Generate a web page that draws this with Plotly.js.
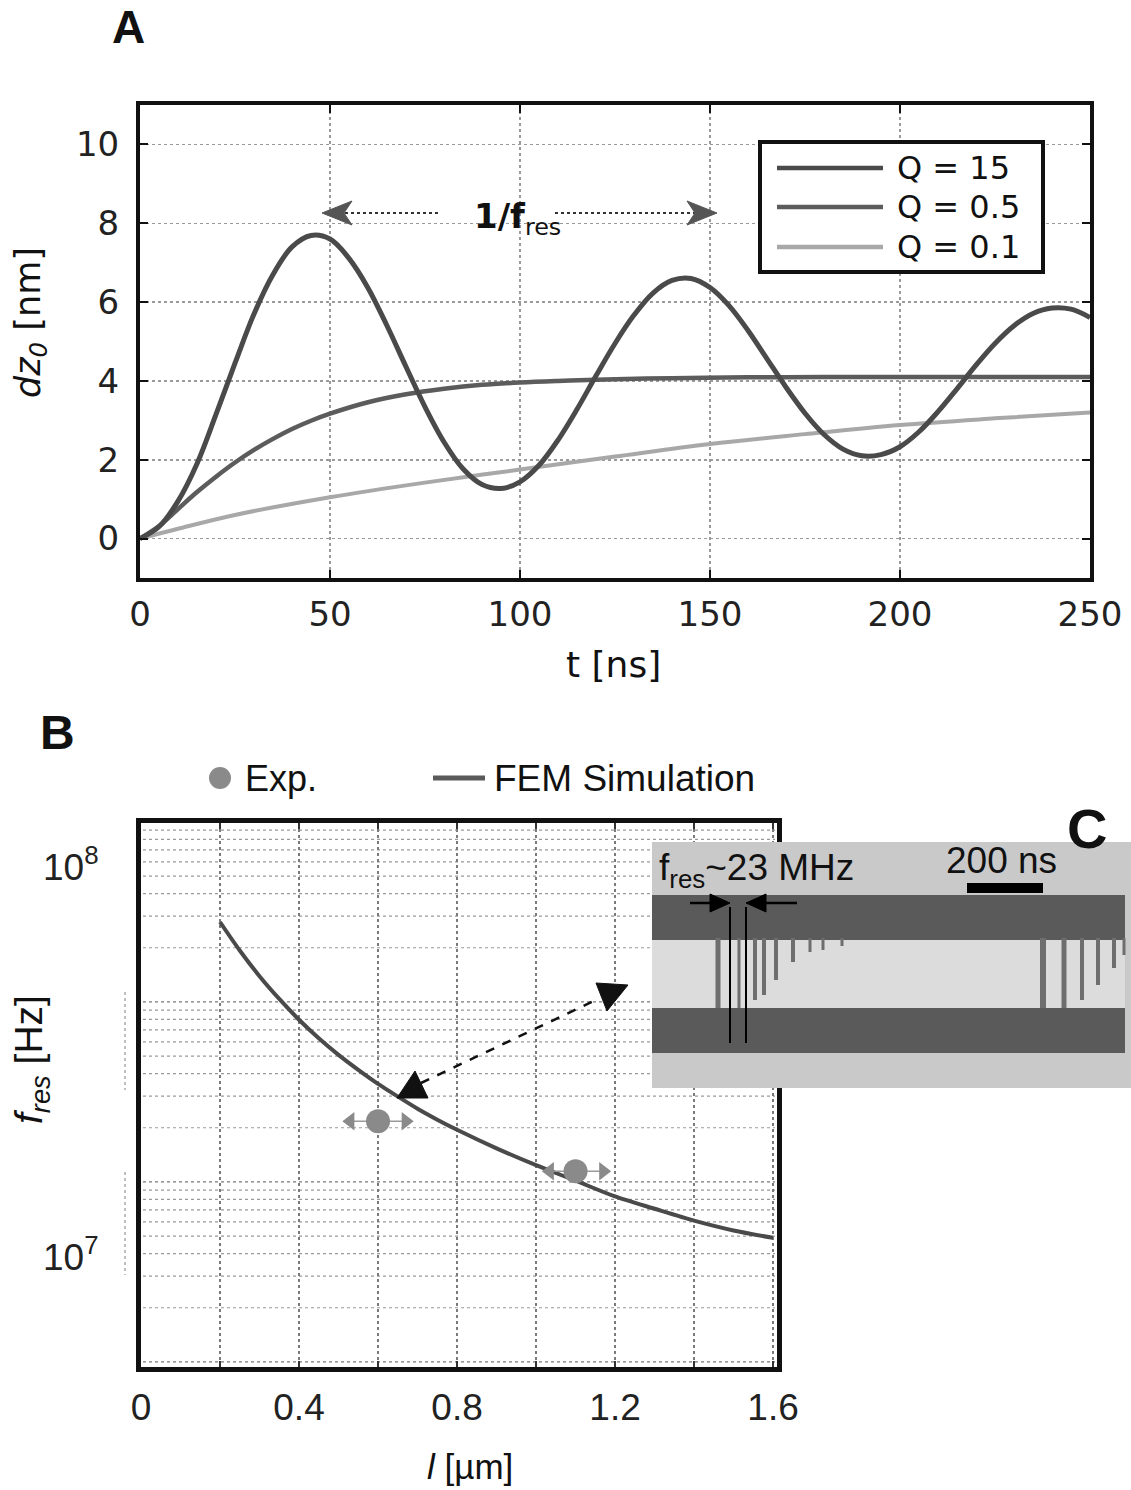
<!DOCTYPE html>
<html><head><meta charset="utf-8">
<script src="https://cdn.plot.ly/plotly-3.0.1.min.js"></script>
<style>html,body{margin:0;padding:0;background:#fff}#chart{width:1131px;height:1490px}</style>
</head><body><div id="chart"></div>
<script>
// ---------- Panel A data (t in ns, dz0 in nm) ----------
const tQ15 = [0,5,10,15,20,25,30,35,40,45,50,55,60,65,70,75,80,85,90,95,100,105,110,115,120,125,130,135,140,145,150,155,160,165,170,175,180,185,190,195,200,205,210,215,220,225,230,235,240,245,250];
const dzQ15 = [0,0.3,0.95,1.9,3.15,4.45,5.7,6.7,7.4,7.69,7.6,7.11,6.36,5.4,4.36,3.34,2.45,1.77,1.37,1.27,1.44,1.86,2.5,3.28,4.13,4.95,5.67,6.23,6.55,6.6,6.37,5.91,5.28,4.56,3.84,3.18,2.64,2.27,2.1,2.13,2.33,2.71,3.22,3.8,4.4,4.95,5.4,5.71,5.85,5.82,5.61];
const tQ05 = [0,5,10,15,20,25,30,35,40,45,50,60,70,80,90,100,110,120,140,160,180,200,225,250];
const dzQ05 = [0,0.32,0.75,1.18,1.57,1.93,2.25,2.53,2.78,2.99,3.17,3.46,3.66,3.8,3.9,3.96,4.0,4.03,4.07,4.09,4.1,4.1,4.1,4.1];
const tQ01 = [0,10,25,50,75,100,125,150,175,200,225,250];
const dzQ01 = [0,0.25,0.6,1.05,1.42,1.75,2.08,2.4,2.65,2.88,3.05,3.2];
const seriesNamesA = ['Q = 15','Q = 0.5','Q = 0.1'];
const xTicksA = [0,50,100,150,200,250];
const yTicksA = [0,2,4,6,8,10];

// ---------- Panel B data (l in µm, f_res in MHz) ----------
const femL = [0.2,0.25,0.3,0.35,0.4,0.45,0.5,0.55,0.6,0.65,0.7,0.75,0.8,0.9,1.0,1.1,1.2,1.3,1.4,1.5,1.6];
const femMHz = [72.3,61.1,52.5,45.9,40.6,36.4,33.0,30.2,27.8,25.8,24.0,22.5,21.2,19.0,17.2,15.7,14.3,13.3,12.4,11.7,11.2];
const expL = [0.60,1.10];
const expMHz = [22.3,16.6];
const expLlow = [0.53,1.035];
const expLhigh = [0.67,1.17];
const xTicksB = [0,0.4,0.8,1.2,1.6];
const yTicksB = [1e7,1e8];
const yTickTextB = ['10<sup>7</sup>','10<sup>8</sup>'];

// ---------- helpers for decoration in page pixels ----------
const W=1131,H=1490;
const px=p=>p/W, py=p=>1-p/H;
const fA='DejaVu Sans', fB='Liberation Sans';

const traces = [
  {x:tQ01,y:dzQ01,xaxis:'x',yaxis:'y',mode:'lines',name:seriesNamesA[2],line:{color:'#a8a8a8',width:4,shape:'spline'},showlegend:false},
  {x:tQ05,y:dzQ05,xaxis:'x',yaxis:'y',mode:'lines',name:seriesNamesA[1],line:{color:'#5c5c5c',width:4.5,shape:'spline'},showlegend:false},
  {x:tQ15,y:dzQ15,xaxis:'x',yaxis:'y',mode:'lines',name:seriesNamesA[0],line:{color:'#4a4a4a',width:5,shape:'spline'},showlegend:false},
  {x:femL,y:femMHz.map(v=>v*1e6),xaxis:'x2',yaxis:'y2',mode:'lines',name:'FEM Simulation',line:{color:'#4a4a4a',width:4,shape:'spline',smoothing:0.8},showlegend:false},
  {x:expL,y:expMHz.map(v=>v*1e6),xaxis:'x2',yaxis:'y2',mode:'markers',name:'Exp.',
    marker:{symbol:'circle',size:24,color:'#8a8a8a'},
    error_x:{type:'data',symmetric:false,array:expLhigh.map((h,i)=>h-expL[i]),arrayminus:expL.map((c,i)=>c-expLlow[i]),color:'#9a9a9a',thickness:1.5,width:0},
    showlegend:false},
  {x:expLlow,y:expMHz.map(v=>v*1e6),xaxis:'x2',yaxis:'y2',mode:'markers',marker:{symbol:'triangle-left',size:16,color:'#8a8a8a'},showlegend:false,hoverinfo:'skip'},
  {x:expLhigh,y:expMHz.map(v=>v*1e6),xaxis:'x2',yaxis:'y2',mode:'markers',marker:{symbol:'triangle-right',size:16,color:'#8a8a8a'},showlegend:false,hoverinfo:'skip'}
];

const shapes = [];
const annotations = [];
function line(x0,y0,x1,y1,color,width,dash,layer){shapes.push({type:'line',xref:'paper',yref:'paper',x0:px(x0),y0:py(y0),x1:px(x1),y1:py(y1),line:{color:color,width:width,dash:dash||'solid'},layer:layer||'above'});}
function rect(x0,y0,x1,y1,fill,lc,lw){shapes.push({type:'rect',xref:'paper',yref:'paper',x0:px(x0),y0:py(y0),x1:px(x1),y1:py(y1),fillcolor:fill,line:{color:lc||fill,width:lw||0},layer:'above'});}
function poly(pts,fill){let d='M'+pts.map(p=>px(p[0])+','+py(p[1])).join(' L')+' Z';shapes.push({type:'path',xref:'paper',yref:'paper',path:d,fillcolor:fill,line:{color:fill,width:1},layer:'above'});}
function txt(text,x,y,size,family,opts){annotations.push(Object.assign({text:text,x:px(x),y:py(y),xref:'paper',yref:'paper',showarrow:false,font:{family:family,size:size,color:'#111'},xanchor:'center',yanchor:'middle'},opts||{}));}

// ---- Panel B background log grid (overlaid finer decade grid seen in the original figure) ----
for(let e=6;e<=8;e++){for(let m=1;m<=9;m++){
  const lg=Math.log10(m*Math.pow(10,e));
  const yp=823+(8.994-lg)*180;
  if(yp>826 && yp<1364){line(143,yp,775,yp,(m===1)?'#7a7a7a':'#9a9a9a',1.2,'dot','below');}
}}

// ---- Panel A decorations ----
txt('<b>A</b>',128,27,46,fB);
txt('t [ns]',613,664,36,fA);
txt('<i>dz</i><sub><i>0</i></sub> [nm]',30,323,35,fA,{textangle:-90});
line(345,213,440,213,'#333',2,'dot');
line(555,213,700,213,'#333',2,'dot');
poly([[352,201],[322,213],[352,225],[344,213]],'#555');
poly([[687,201],[717,213],[687,225],[695,213]],'#555');
txt('<b>1/f</b><sub>res</sub>',517,218,34,fA);
rect(760,142,1043,272,'#ffffff','#111',4);
const legColors=['#4a4a4a','#5c5c5c','#a8a8a8'];
const legY=[168,207,247];
for(let i=0;i<3;i++){line(777,legY[i],883,legY[i],legColors[i],4.5);txt(seriesNamesA[i],895,legY[i],32,fA,{xanchor:'left'});}

// ---- Panel B decorations ----
txt('<b>B</b>',57,732,48,fB);
shapes.push({type:'circle',xref:'paper',yref:'paper',x0:px(209),y0:py(767),x1:px(231),y1:py(789),fillcolor:'#8a8a8a',line:{color:'#8a8a8a',width:0}});
txt('Exp.',243,778,36,fB,{xanchor:'left'});
line(433,778,485,778,'#5a5a5a',5);
txt('FEM Simulation',492,778,37,fB,{xanchor:'left'});
txt('<i>f</i><sub><i>res</i></sub> [Hz]',31,1060,39,fB,{textangle:-90});
txt('<i>l</i> [µm]',470,1466,35,fB);
line(125,992,125,1090,'#aaaaaa',1.5,'dot');
line(125,1172,125,1275,'#aaaaaa',1.5,'dot');
line(421,1083,598,999,'#111',2.5,'dash');
poly([[415,1071],[397,1098],[428,1098]],'#111');
poly([[596,983],[628,985],[607,1011]],'#111');

// ---- Inset C (oscilloscope trace) ----
rect(652,842,1131,1088,'#c9c9c9');
rect(652,940,1125,1010,'#dcdcdc');
rect(652,895,1125,940,'#5a5a5a');
rect(652,1008,1125,1053,'#5a5a5a');
const spikes=[[718,1008,5],[739,1008,3],[755,1000,4],[764,995,4],[776,980,4],[793,962,4],[810,952,3],[823,950,3],[842,946,3],
              [1043,1008,6],[1064,1008,5],[1082,1000,4],[1098,985,4],[1114,968,4],[1124,955,3]];
spikes.forEach(s=>line(s[0],938,s[0],s[1],'#6e6e6e',s[2]));
line(730,907,730,1043,'#000',2);
line(746,907,746,1043,'#000',2);
rect(967,883,1043,893,'#000');
line(690,903,715,903,'#000',2.5);
poly([[710,894],[730,903],[710,912]],'#000');
line(797,903,762,903,'#000',2.5);
poly([[766,894],[746,903],[766,912]],'#000');
txt('f<sub>res</sub>~23 MHz',657,870,37,fB,{xanchor:'left'});
txt('200 ns',1001,860,37,fB);
txt('<b>C</b>',1087,828,56,fB);

const axA = {showline:true,linewidth:4,linecolor:'#111',mirror:'allticks',ticks:'inside',ticklen:8,tickwidth:2,tickcolor:'#111',
  showgrid:true,gridcolor:'#9a9a9a',gridwidth:1.5,griddash:'dot',zeroline:false,tickfont:{family:fA,size:34,color:'#222'},fixedrange:true};

const layout = {
  width:W,height:H,margin:{l:0,r:0,t:0,b:0},paper_bgcolor:'#fff',plot_bgcolor:'rgba(0,0,0,0)',showlegend:false,
  xaxis:Object.assign({},axA,{domain:[px(140),px(1090)],range:[0,250],tickvals:xTicksA,anchor:'y',ticklabelstandoff:3}),
  yaxis:Object.assign({},axA,{domain:[py(578),py(105)],range:[-1,11],tickvals:yTicksA,anchor:'x',ticklabelstandoff:10}),
  xaxis2:{domain:[px(141),px(777)],range:[0,1.61],tickvals:xTicksB,anchor:'y2',showline:true,linewidth:5,linecolor:'#111',mirror:'allticks',
    ticks:'inside',ticklen:6,tickwidth:1.5,tickcolor:'#333',showgrid:true,gridcolor:'#7a7a7a',gridwidth:1.2,griddash:'dot',zeroline:false,
    minor:{tick0:0,dtick:0.2,ticks:'inside',ticklen:6,tickwidth:1.5,tickcolor:'#333',showgrid:true,gridcolor:'#7a7a7a',gridwidth:1.2,griddash:'dot'},
    tickfont:{family:fB,size:37,color:'#222'},ticklabelstandoff:4,fixedrange:true},
  yaxis2:{type:'log',domain:[py(1367),py(823)],range:[6.718,8.113],tickvals:yTicksB,ticktext:yTickTextB,anchor:'x2',showline:true,linewidth:5,linecolor:'#111',mirror:true,
    ticks:'',showgrid:false,zeroline:false,tickfont:{family:fB,size:37,color:'#222'},ticklabelstandoff:30,fixedrange:true},
  shapes:shapes,annotations:annotations
};

Plotly.newPlot('chart',traces,layout,{staticPlot:true,displayModeBar:false});
</script></body></html>
